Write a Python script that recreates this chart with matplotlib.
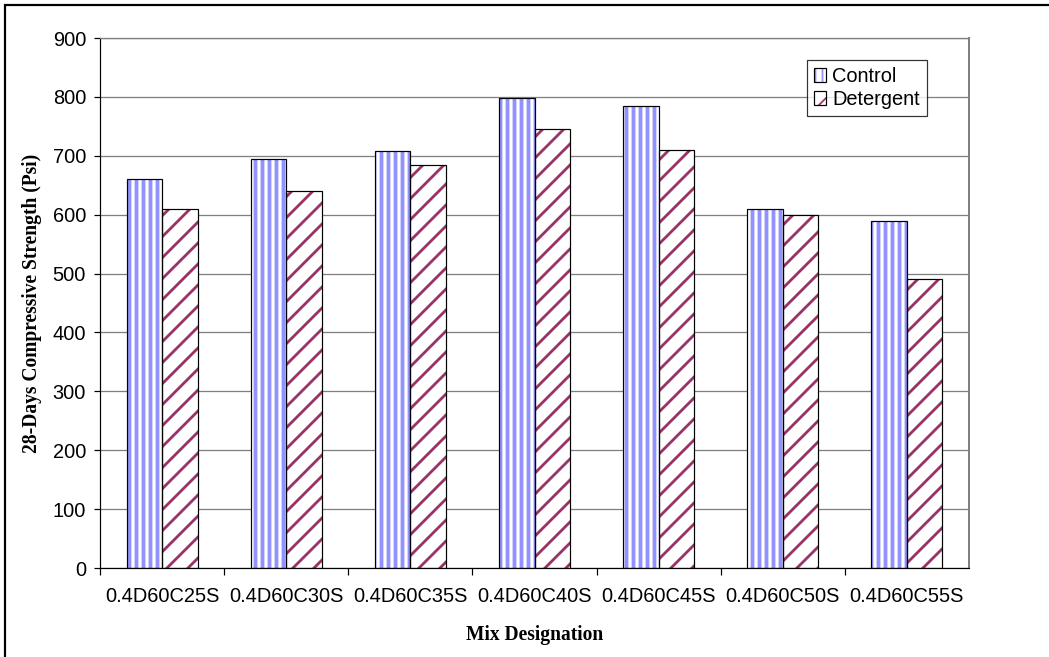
import matplotlib
matplotlib.use("Agg")
import matplotlib.pyplot as plt
from matplotlib.patches import Patch, Rectangle
from matplotlib.legend_handler import HandlerTuple
import numpy as np

# Data
mixes = ["0.4D60C25S", "0.4D60C30S", "0.4D60C35S", "0.4D60C40S",
         "0.4D60C45S", "0.4D60C50S", "0.4D60C55S"]
control = [660, 695, 708, 798, 785, 610, 590]
detergent = [610, 640, 685, 746, 710, 600, 490]
y_ticks = [0, 100, 200, 300, 400, 500, 600, 700, 800, 900]

DPI = 126
PX = 72.0 / DPI  # points per pixel

plt.rcParams["font.family"] = ["Liberation Sans", "DejaVu Sans"]

BLUE = "#9191ff"
MAROON = "#993366"
BLUE_LW = 3.8 * PX
MAROON_LW = 2.8 * PX

fig = plt.figure(figsize=(1049 / DPI, 657 / DPI), dpi=DPI)
ax = fig.add_axes([100 / 1049, 1 - 568 / 657, 869 / 1049, 530 / 657])

x = np.arange(len(mixes))
w = 0.286


def set_hatch_lw(patches, lw):
    for p in patches:
        if hasattr(p, "set_hatch_linewidth"):
            p.set_hatch_linewidth(lw)


def hatched_bars(xpos, vals, color, hatch, lw):
    with plt.rc_context({"hatch.linewidth": lw}):
        bars = ax.bar(xpos, vals, w, facecolor="white", edgecolor=color,
                      hatch=hatch, linewidth=0, zorder=2)
    set_hatch_lw(bars, lw)
    ax.bar(xpos, vals, w, fill=False, edgecolor="black",
           linewidth=1.2 * PX, zorder=3)


hatched_bars(x - w / 2, control, BLUE, "|||", BLUE_LW)
hatched_bars(x + w / 2, detergent, MAROON, "//", MAROON_LW)

# Axes styling
ax.set_xlim(-0.5, len(mixes) - 0.5)
ax.set_ylim(0, 900)
ax.set_yticks(y_ticks)
ax.yaxis.grid(True, color="#808080", linewidth=1.3 * PX, zorder=0)
ax.set_axisbelow(True)

ax.spines["left"].set_color("black")
ax.spines["bottom"].set_color("black")
ax.spines["left"].set_linewidth(1.2 * PX)
ax.spines["bottom"].set_linewidth(1.2 * PX)
ax.spines["top"].set_color("#808080")
ax.spines["right"].set_color("#808080")
ax.spines["top"].set_linewidth(1.3 * PX)
ax.spines["right"].set_linewidth(2 * PX)

fs = 20 * PX
ax.tick_params(axis="y", direction="out", length=6 * PX, width=1.2 * PX,
               labelsize=fs, pad=8 * PX, colors="black")

# category boundaries carry tick marks, centers carry labels
ax.set_xticks(np.arange(-0.5, len(mixes) - 0.5, 1.0))
ax.set_xticklabels([])
ax.tick_params(axis="x", which="major", direction="out", length=7 * PX,
               width=1.2 * PX)
ax.set_xticks(x, minor=True)
ax.set_xticklabels(mixes, minor=True)
ax.tick_params(axis="x", which="minor", length=0, labelsize=fs, pad=19 * PX)

ax.set_ylabel("28-Days Compressive Strength (Psi)", family="Liberation Serif",
              fontweight="bold", fontsize=19.5 * PX, labelpad=10 * PX)
ax.set_xlabel("Mix Designation", family="Liberation Serif",
              fontweight="bold", fontsize=19.5 * PX, labelpad=19 * PX)

# legend swatches: hatched fill with a black outline on top
def swatch(color, hatch, lw):
    with plt.rc_context({"hatch.linewidth": lw}):
        fillp = Patch(facecolor="white", edgecolor=color, hatch=hatch,
                      linewidth=0)
    set_hatch_lw([fillp], lw)
    outline = Patch(fill=False, edgecolor="black", linewidth=1.2 * PX)
    return (fillp, outline)


handles = [swatch(BLUE, "|||", BLUE_LW), swatch(MAROON, "//", MAROON_LW)]
leg = ax.legend(handles, ["Control", "Detergent"], loc="upper left",
                bbox_to_anchor=((807 - 100) / 869, (568 - 60) / 530),
                handler_map={tuple: HandlerTuple(ndivide=1)},
                fontsize=fs, frameon=True, fancybox=False,
                handlelength=0.6, handleheight=0.7, handletextpad=0.3,
                labelspacing=0.2, borderpad=0.35, borderaxespad=0)
leg.get_frame().set_edgecolor("black")
leg.get_frame().set_linewidth(1.2 * PX)

# outer frame of the figure
fig.patches.append(Rectangle((5 / 1049, -0.05), 1.2, (1 - 5 / 657) + 0.05,
                             transform=fig.transFigure, fill=False,
                             edgecolor="black", linewidth=2.2 * PX))

fig.savefig("out.png", dpi=DPI)
